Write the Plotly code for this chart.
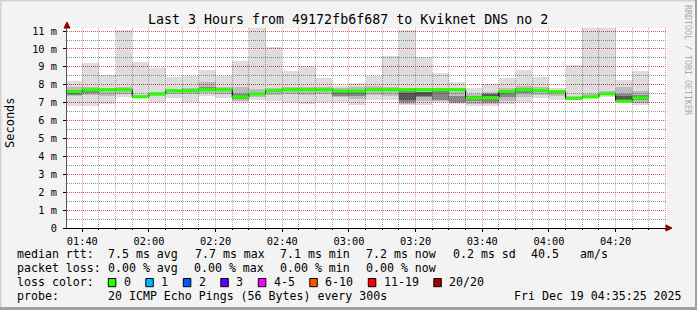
import plotly.graph_objects as go
import pandas as pd

# ---------------- data ----------------
bar_end = pd.date_range("2025-12-19 01:40", periods=35, freq="5min")
step = pd.Timedelta(minutes=5)

rtt_max = [8.21, 9.22, 8.55, 11.06, 9.29, 8.96, 8.45, 8.51, 8.83, 8.51, 9.33, 11.15,
           10.10, 8.77, 9.05, 8.40, 7.93, 8.08, 8.51, 9.61, 11.06, 9.55, 8.68, 8.17,
           7.84, 8.04, 8.40, 8.83, 8.45, 7.80, 9.10, 11.15, 11.15, 8.27, 8.77]
rtt_min = [6.83, 6.83, 6.91, 7.34, 7.24, 7.02, 7.28, 7.02, 7.37, 7.24, 7.02, 7.15,
           7.10, 7.06, 6.91, 7.06, 7.02, 6.87, 7.15, 7.15, 6.87, 6.87, 7.02, 6.91,
           6.83, 6.83, 6.91, 7.06, 7.24, 7.13, 7.13, 7.24, 7.34, 7.02, 6.87]
rtt_median = [7.62, 7.72, 7.72, 7.73, 7.33, 7.49, 7.67, 7.67, 7.73, 7.73, 7.32, 7.49,
              7.67, 7.73, 7.73, 7.73, 7.65, 7.65, 7.73, 7.73, 7.73, 7.73, 7.73, 7.73,
              7.26, 7.28, 7.62, 7.73, 7.67, 7.62, 7.23, 7.32, 7.49, 7.09, 7.26]
band_lo = [7.35, 7.45, 7.35, 7.50, 7.25, 7.40, 7.50, 7.50, 7.55, 7.50, 7.10, 7.30,
           7.45, 7.50, 7.45, 7.50, 7.30, 7.20, 7.45, 7.40, 6.95, 7.10, 7.10, 7.00,
           6.95, 6.90, 7.10, 7.30, 7.45, 7.40, 7.20, 7.30, 7.45, 7.05, 7.00]
band_hi = [7.85, 7.90, 7.80, 7.85, 7.45, 7.60, 7.75, 7.80, 8.15, 7.85, 7.90, 7.75,
           7.80, 7.85, 7.85, 7.85, 7.80, 7.85, 7.95, 7.85, 7.80, 7.75, 7.80, 7.80,
           7.50, 7.60, 7.80, 7.95, 7.85, 7.70, 7.35, 7.50, 7.65, 7.85, 7.65]
core_lo = [7.45, 7.55, None, None, None, None, None, None, 7.65, None, 7.20, None,
           None, None, None, None, 7.40, 7.35, None, None, 7.05, 7.30, 7.15, 7.05,
           7.10, 7.05, 7.30, 7.55, None, None, None, None, None, 7.10, 7.15]
core_hi = [7.72, 7.75, None, None, None, None, None, None, 7.90, None, 7.50, None,
           None, None, None, None, 7.60, 7.60, None, None, 7.65, 7.60, 7.70, 7.40,
           7.35, 7.50, 7.70, 7.80, None, None, None, None, None, 7.50, 7.45]
dark_lo = [None] * 20 + [7.15, 7.40, None, None, None, 7.20, None, None,
                         None, None, None, None, None, 7.15, None]
dark_hi = [None] * 20 + [7.55, 7.60, None, None, None, 7.48, None, None,
                         None, None, None, None, None, 7.40, None]

y_ticks = list(range(0, 12))
y_tick_text = ["0"] + [f"{v} m" for v in y_ticks[1:]]

loss_labels = ["0", "1", "2", "3", "4-5", "6-10", "11-19", "20/20"]
loss_colors = ["#26ff00", "#00b8ff", "#0059ff", "#5e00ff", "#ff00ff", "#ff5500", "#ff0000", "#a10000"]

stats_rtt = ["7.5 ms avg", "7.7 ms max", "7.1 ms min", "7.2 ms now", "0.2 ms sd", "40.5", "am/s"]
stats_loss = ["0.00 % avg", "0.00 % max", "0.00 % min", "0.00 % now"]

title = "Last 3 Hours from 49172fb6f687 to Kviknet DNS no 2"
probe_text = "20 ICMP Echo Pings (56 Bytes) every 300s"
stamp_text = "Fri Dec 19 04:35:25 2025"
t_start = pd.Timestamp("2025-12-19 01:35:25")
t_end = pd.Timestamp("2025-12-19 04:35:25")

# ---------------- geometry helpers (pixels -> paper) ----------------
L, R, T, B = 67, 667, 28, 228
W, H = 697, 310


def PX(x):
    return (x - L) / (R - L)


def PY(y):
    return (B - y) / (B - T)


MONO = "DejaVu Sans Mono"

centers = [e - step / 2 for e in bar_end]
width_ms = step.total_seconds() * 1000

fig = go.Figure()


def add_band(lo, hi, color):
    xs, bases, heights = [], [], []
    for c, a, b in zip(centers, lo, hi):
        if a is None or b is None:
            continue
        xs.append(c)
        bases.append(a)
        heights.append(b - a)
    fig.add_trace(go.Bar(x=xs, y=heights, base=bases, width=width_ms,
                         marker=dict(color=color, line=dict(width=0)),
                         hoverinfo="skip", showlegend=False))


add_band(rtt_min, rtt_max, "rgba(0,0,0,0.135)")
add_band(band_lo, band_hi, "rgba(0,0,0,0.15)")
add_band(core_lo, core_hi, "rgba(0,0,0,0.28)")
add_band(dark_lo, dark_hi, "rgba(0,0,0,0.35)")

# step connectors (dark)
starts = [e - step for e in bar_end]
fig.add_trace(go.Scatter(x=starts + [bar_end[-1]], y=rtt_median + [rtt_median[-1]],
                         mode="lines", line=dict(color="#000000", width=1, shape="hv"),
                         hoverinfo="skip", showlegend=False))
# green median segments
gx, gy = [], []
for s, e, m in zip(starts, bar_end, rtt_median):
    gx += [s, e, None]
    gy += [m, m, None]
fig.add_trace(go.Scatter(x=gx, y=gy, mode="lines",
                         line=dict(color=loss_colors[0], width=3),
                         hoverinfo="skip", showlegend=False))

DOT = "1px,1px"

fig.update_layout(
    width=W, height=H,
    margin=dict(l=L, r=W - R, t=T, b=H - B, pad=0),
    paper_bgcolor="#f3f3f3", plot_bgcolor="#ffffff",
    barmode="overlay", bargap=0,
    showlegend=False,
    font=dict(family=MONO, size=10, color="#000000"),
    xaxis=dict(
        type="date", range=[t_start, t_end],
        tickformat="%H:%M", dtick=20 * 60 * 1000, tick0="2025-12-19 00:00",
        showgrid=True, gridcolor="#ec9c9c", griddash=DOT, gridwidth=1,
        minor=dict(dtick=5 * 60 * 1000, showgrid=True, gridcolor="#ababab",
                   griddash=DOT, gridwidth=1, ticks="outside", ticklen=1, tickcolor="#000"),
        ticks="outside", ticklen=3, tickcolor="#000000",
        showline=True, linecolor="#000000", linewidth=1,
        zeroline=False, fixedrange=True,
        tickfont=dict(family=MONO, size=10.3, color="#000000"),
        ticklabelstandoff=1,
    ),
    yaxis=dict(
        range=[0, 11.17], tickvals=y_ticks, ticktext=y_tick_text,
        showgrid=True, gridcolor="#d85050", griddash=DOT, gridwidth=1,
        minor=dict(dtick=0.5, showgrid=True, gridcolor="#959595",
                   griddash=DOT, gridwidth=1),
        ticks="outside", ticklen=3, tickcolor="#000000",
        showline=True, linecolor="#555555", linewidth=1,
        zeroline=False, fixedrange=True,
        tickfont=dict(family=MONO, size=10.3, color="#000000"),
        ticklabelstandoff=4,
    ),
)

ann = []


def text(x, y, s, size=11.6, anchor="left", color="#000000", angle=0):
    ann.append(dict(x=PX(x), y=PY(y), xref="paper", yref="paper", text=s.replace(" ", "\u00a0"),
                    showarrow=False, xanchor=anchor, yanchor="middle", textangle=angle,
                    borderpad=0, font=dict(family=MONO, size=size, color=color)))


text(347.5, 19, title, size=13.3, anchor="center")
text(10, 123, "Seconds", size=12, anchor="center", angle=-90)
text(688, 60, "RRDTOOL / TOBI OETIKER", size=8.3, anchor="center", color="#aaaaaa", angle=90)

# legend lines
rows_y = [254.3, 268.2, 282.4, 296.2]
text(16, rows_y[0], "median rtt:")
for s, x in zip(stats_rtt, [107, 194, 279, 365, 452, 530, 579]):
    text(x, rows_y[0], s)
text(16, rows_y[1], "packet loss:")
for s, x in zip(stats_loss, [107, 193, 279, 365]):
    text(x, rows_y[1], s)
text(16, rows_y[2], "loss color:")
text(16, rows_y[3], "probe:")
text(107, rows_y[3], probe_text)
text(513, rows_y[3], stamp_text)

shapes = []
bx = 108.3
for lab, col in zip(loss_labels, loss_colors):
    shapes.append(dict(type="rect", xref="paper", yref="paper",
                       x0=PX(bx), x1=PX(bx + 7.5), y0=PY(286.7), y1=PY(278.5),
                       fillcolor=col, line=dict(color="#000000", width=1)))
    lx = bx + 14.5
    text(lx, rows_y[2], lab)
    bx = lx + 7.0 * len(lab) + 16

# axis arrows
shapes.append(dict(type="path", xref="paper", yref="paper",
                   path=f"M {PX(64)} {PY(28)} L {PX(70)} {PY(28)} L {PX(67)} {PY(22)} Z",
                   fillcolor="#8b0000", line=dict(color="#8b0000", width=1)))
shapes.append(dict(type="path", xref="paper", yref="paper",
                   path=f"M {PX(666)} {PY(225)} L {PX(666)} {PY(231)} L {PX(672)} {PY(228)} Z",
                   fillcolor="#8b0000", line=dict(color="#8b0000", width=1)))

# frame
shapes.append(dict(type="line", xref="paper", yref="paper", x0=PX(0), x1=PX(W), y0=PY(0.5), y1=PY(0.5),
                   line=dict(color="#d2d2d2", width=2)))
shapes.append(dict(type="line", xref="paper", yref="paper", x0=PX(0.5), x1=PX(0.5), y0=PY(0), y1=PY(H),
                   line=dict(color="#d2d2d2", width=2)))
shapes.append(dict(type="line", xref="paper", yref="paper", x0=PX(0), x1=PX(W), y0=PY(H - 1.5), y1=PY(H - 1.5),
                   line=dict(color="#a0a0a0", width=3)))
shapes.append(dict(type="line", xref="paper", yref="paper", x0=PX(W - 1), x1=PX(W - 1), y0=PY(0), y1=PY(H),
                   line=dict(color="#a0a0a0", width=2)))

fig.update_layout(annotations=ann, shapes=shapes)

fig.write_html("out.html")
